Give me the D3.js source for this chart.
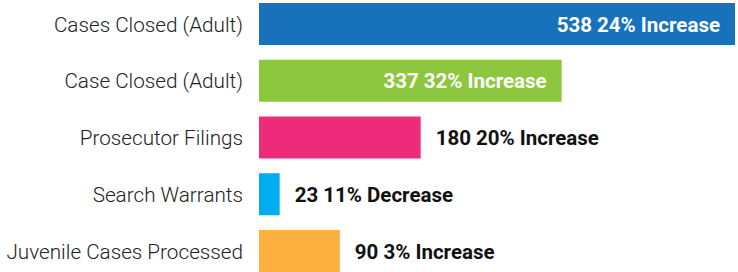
<html>
<head>
  <meta charset="utf8">
  <title>Cases</title>
  <style>
  * { margin: 0; padding: 0; }
  body { background: #fff; overflow: hidden; }
  .label { font-family: Roboto, sans-serif; font-weight: 300; font-size: 20.7px; fill: #222; }
  .value { font-family: Roboto, sans-serif; font-weight: 700; font-size: 20.5px; }
  </style>
</head>
<body>
  <script src="https://cdn.jsdelivr.net/npm/d3@7/dist/d3.min.js"></script>
  <script>
  var categories = ['Cases Closed (Adult)', 'Case Closed (Adult)', 'Prosecutor Filings', 'Search Warrants', 'Juvenile Cases Processed']
  var values = [538, 337, 180, 23, 90]
  var changes = ['24% Increase', '32% Increase', '20% Increase', '11% Decrease', '3% Increase']
  var colors = ['#1771bb', '#8dc63f', '#ee2a7b', '#00aeef', '#fbb040']

  var width = 738, height = 272
  var left = 259

  var svg = d3.select('body').append('svg')
    .attr('width', width)
    .attr('height', height)

  // the long first bar runs off the right side, so clamp it
  var x = d3.scaleLinear().domain([0, 530]).range([0, 476]).clamp(true)
  var y = d3.scaleBand().domain(categories).range([3, 272]).paddingInner(0.26).paddingOuter(0)

  var rows = svg.selectAll('.row')
    .data(categories)
    .enter()
    .append('g')
    .attr('class', 'row')
    .attr('transform', d => 'translate(0,' + y(d) + ')')

  rows.append('rect')
    .attr('x', left)
    .attr('width', (d, i) => x(values[i]))
    .attr('height', y.bandwidth())
    .attr('fill', (d, i) => colors[i])

  rows.append('text')
    .attr('class', 'label')
    .attr('x', left - 16)
    .attr('y', y.bandwidth() / 2)
    .attr('dy', '.37em')
    .style('text-anchor', 'end')
    .text(d => d)

  // labels go inside the bar when it is wide enough
  var inside = i => x(values[i]) > 250
  rows.append('text')
    .attr('class', 'value')
    .attr('x', (d, i) => inside(i) ? left + x(values[i]) - 15 : left + x(values[i]) + 15)
    .attr('y', y.bandwidth() / 2)
    .attr('dy', '.37em')
    .style('text-anchor', (d, i) => inside(i) ? 'end' : 'start')
    .attr('fill', (d, i) => inside(i) ? '#fff' : '#111')
    .text((d, i) => values[i] + ' ' + changes[i])
  </script>
</body>
</html>
